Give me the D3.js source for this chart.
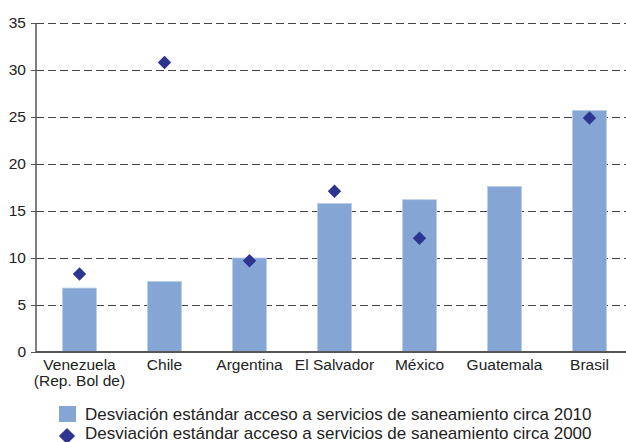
<!DOCTYPE html>
<html><head><meta charset="utf-8">
<script src="https://cdn.jsdelivr.net/npm/d3@7"></script>
<style>body{margin:0;background:#fff;}svg{display:block;font-family:"Liberation Sans",Arial,sans-serif;}</style>
</head><body>
<svg id="c" width="626" height="442"></svg>
<script>
const categories = ["Venezuela\n(Rep. Bol de)", "Chile", "Argentina", "El Salvador", "México", "Guatemala", "Brasil"];
const values2010 = [6.8, 7.5, 10.0, 15.8, 16.2, 17.6, 25.7];
const values2000 = [8.3, 30.8, 9.7, 17.1, 12.1, null, 24.9];
const yTicks = [0, 5, 10, 15, 20, 25, 30, 35];
const legendLabels = ["Desviación estándar acceso a servicios de saneamiento circa 2010",
                      "Desviación estándar acceso a servicios de saneamiento circa 2000"];

const svg = d3.select("#c");
const x = d3.scaleBand().domain(categories).range([37, 632]).paddingInner(0.6).paddingOuter(0.3);
const y = d3.scaleLinear().domain([0, 35]).range([352, 23]);
const barColor = "#85A5D5", dotColor = "#2E3591";
const FONT = "Liberation Sans, Arial, sans-serif";

// gridlines
svg.append("g").selectAll("line").data(yTicks.filter(d => d > 0)).join("line")
  .attr("x1", 36).attr("x2", 626)
  .attr("y1", d => Math.round(y(d)) + 0.5).attr("y2", d => Math.round(y(d)) + 0.5)
  .attr("stroke", "#444").attr("stroke-width", 1).attr("stroke-dasharray", "8,4");

// bars
svg.append("g").selectAll("rect").data(categories).join("rect")
  .attr("x", d => x(d)).attr("width", x.bandwidth())
  .attr("y", (d, i) => y(values2010[i])).attr("height", (d, i) => y(0) - y(values2010[i]))
  .attr("fill", barColor).attr("stroke", "#B9CCEA").attr("stroke-width", 0.8);

// diamonds
const diamond = d3.symbol().type(d3.symbolSquare).size(90);
svg.append("g").selectAll("path").data(categories.map((c, i) => [c, values2000[i]]).filter(d => d[1] != null)).join("path")
  .attr("d", diamond)
  .attr("transform", d => `translate(${x(d[0]) + x.bandwidth() / 2},${y(d[1])}) rotate(45)`)
  .attr("fill", dotColor);

// y axis
const yAxis = svg.append("g").attr("transform", "translate(36,0)")
  .call(d3.axisLeft(y).tickValues(yTicks).tickSize(5).tickPadding(5));
yAxis.select(".domain").attr("stroke", "#555").attr("stroke-width", 1.5).attr("d", `M0,${y(35)}V${y(0)}`);
yAxis.selectAll(".tick line").attr("stroke", "#555");
yAxis.selectAll("text").attr("font-size", 15.5).attr("fill", "#222").attr("font-family", FONT);

// x axis line
svg.append("line").attr("x1", 36).attr("x2", 626).attr("y1", y(0)).attr("y2", y(0))
  .attr("stroke", "#555").attr("stroke-width", 1.8);

// x labels
const xl = svg.append("g").selectAll("text").data(categories).join("text")
  .attr("x", d => x(d) + x.bandwidth() / 2).attr("y", 370)
  .attr("text-anchor", "middle").attr("font-size", 15.5).attr("fill", "#222");
xl.each(function(d) {
  const lines = d.split("\n");
  d3.select(this).selectAll("tspan").data(lines).join("tspan")
    .attr("x", x(d) + x.bandwidth() / 2).attr("dy", (l, i) => i ? 16 : 0).text(l => l);
});

// legend
const lg = svg.append("g");
lg.append("rect").attr("x", 59).attr("y", 406).attr("width", 17).attr("height", 16).attr("fill", barColor);
lg.append("path").attr("d", d3.symbol().type(d3.symbolSquare).size(130))
  .attr("transform", "translate(67,436) rotate(45)").attr("fill", dotColor);
lg.selectAll("text").data(legendLabels).join("text")
  .attr("x", 85).attr("y", (d, i) => 420 + i * 18.5)
  .attr("font-size", 17).attr("fill", "#222").text(d => d);
</script>
</body></html>
